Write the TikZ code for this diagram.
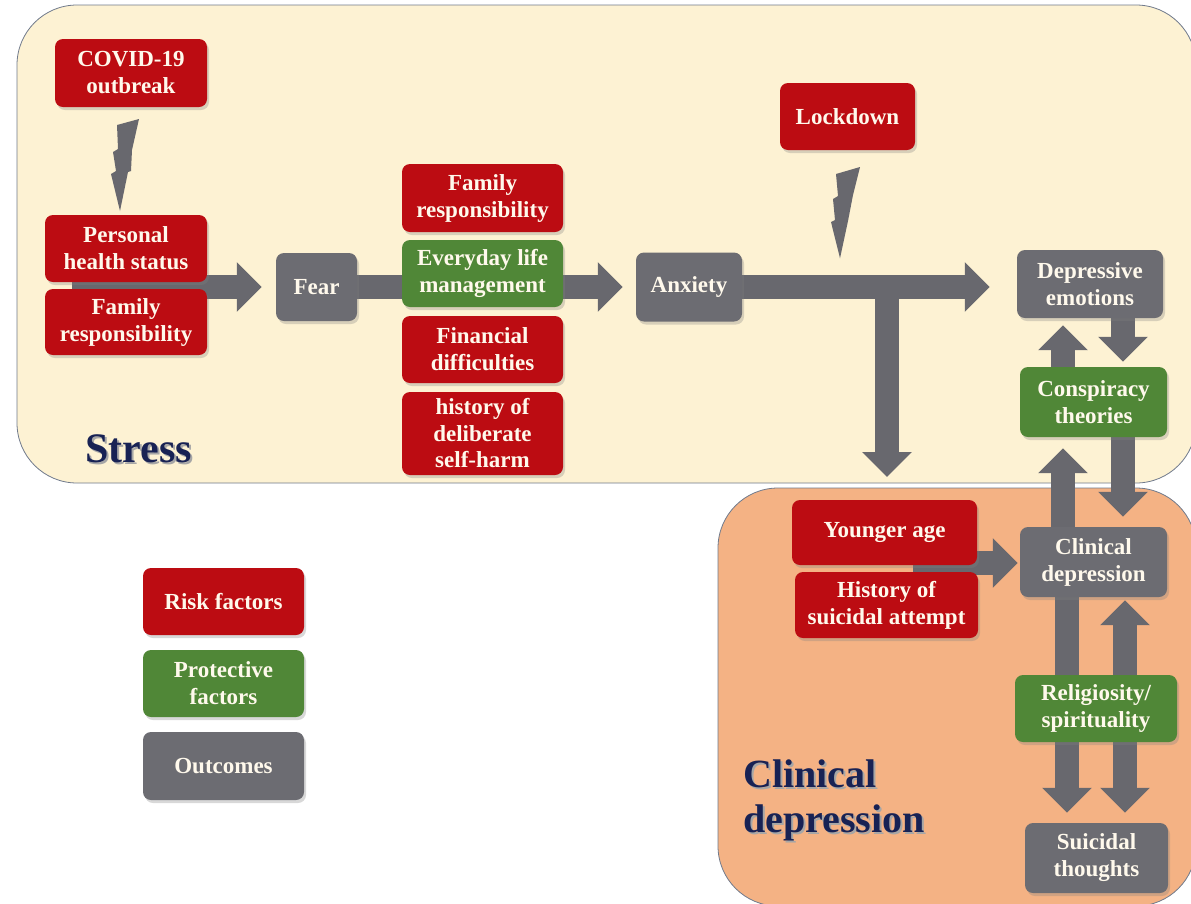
\documentclass[tikz,border=0pt]{standalone}
\usepackage{fontspec}
\setmainfont{Liberation Serif}
\usetikzlibrary{arrows.meta,shadows,calc}
\definecolor{cred}{RGB}{188,12,18}
\definecolor{cgreen}{RGB}{80,135,55}
\definecolor{cgray}{RGB}{108,108,114}
\definecolor{arrgray}{RGB}{104,104,110}
\definecolor{stressfill}{RGB}{253,242,211}
\definecolor{clinfill}{RGB}{244,178,132}
\definecolor{bordcol}{RGB}{112,122,140}
\definecolor{navy}{RGB}{24,34,84}
\definecolor{boxtext}{RGB}{255,249,236}
\pgfdeclarelayer{back}
\pgfdeclarelayer{mid}
\pgfsetlayers{back,mid,main}
\tikzset{
  basebox/.style={rounded corners=8pt, inner sep=2pt, align=center, text=boxtext,
    font=\bfseries\fontsize{23}{27}\selectfont,
    drop shadow={opacity=0.3, shadow xshift=2pt, shadow yshift=-3pt}},
  riskbox/.style={basebox, fill=cred},
  protbox/.style={basebox, fill=cgreen},
  outbox/.style={basebox, fill=cgray},
  bigarrow/.style={draw=arrgray, line width=24pt, -{Triangle[length=25pt,width=48pt]}},
  bigdouble/.style={draw=arrgray, line width=24pt, {Triangle[length=25pt,width=48pt]}-{Triangle[length=25pt,width=48pt]}},
  bolt/.style={fill=arrgray},
  region/.style={draw=bordcol, line width=0.8pt},
  regionlabel/.style={text=navy, font=\bfseries\fontsize{40}{45}\selectfont, align=left, inner sep=0pt}
}
\begin{document}
\begin{tikzpicture}[x=1pt,y=-1pt]
\useasboundingbox (0,0) rectangle (1191,903);

% boxes
\node[riskbox, minimum width=152pt, minimum height=68pt] (covid) at (131,73) {COVID-19\\outbreak};
\node[riskbox, minimum width=162pt, minimum height=67pt] (phs) at (126,248.5) {Personal\\health status};
\node[riskbox, minimum width=162pt, minimum height=66pt] (faml) at (126,322) {Family\\responsibility};
\node[outbox, minimum width=81pt, minimum height=68pt] (fear) at (316.5,287) {Fear};
\node[riskbox, minimum width=161pt, minimum height=68pt] (famm) at (482.5,198) {Family\\responsibility};
\node[protbox, minimum width=161pt, minimum height=67pt] (everyday) at (482.5,273.5) {Everyday life\\management};
\node[riskbox, minimum width=161pt, minimum height=67pt] (financial) at (482.5,349.5) {Financial\\difficulties};
\node[riskbox, minimum width=161pt, minimum height=83pt, font=\bfseries\fontsize{23}{26.5}\selectfont] (dsh) at (482.5,433.5) {history of\\deliberate\\self-harm};
\node[outbox, minimum width=106pt, minimum height=69pt] (anxiety) at (689,287) {Anxiety};
\node[riskbox, minimum width=135pt, minimum height=67pt] (lockdown) at (847.5,116.5) {Lockdown};
\node[outbox, minimum width=146pt, minimum height=68pt] (depemo) at (1090,284) {Depressive\\emotions};
\node[protbox, minimum width=147pt, minimum height=70pt] (consp) at (1093.5,402) {Conspiracy\\theories};
\node[outbox, minimum width=147pt, minimum height=70pt] (clindep) at (1093.5,562) {Clinical\\depression};
\node[riskbox, minimum width=185pt, minimum height=65pt] (younger) at (884.5,532.5) {Younger age};
\node[riskbox, minimum width=183pt, minimum height=66pt] (histsui) at (886.5,605) {History of\\suicidal attempt};
\node[protbox, minimum width=162pt, minimum height=67pt] (relig) at (1096,708.5) {Religiosity/\\spirituality};
\node[outbox, minimum width=143pt, minimum height=70pt] (suic) at (1096.5,858) {Suicidal\\thoughts};

% legend
\node[riskbox, minimum width=161pt, minimum height=67pt] (legrisk) at (223.5,601.5) {Risk factors};
\node[protbox, minimum width=161pt, minimum height=67pt] (legprot) at (223.5,683.5) {Protective\\factors};
\node[outbox, minimum width=161pt, minimum height=68pt] (legout) at (223.5,766) {Outcomes};

% helper coordinates
\coordinate (lsrc) at (72,287);
\coordinate (ysrc) at (913,563);
\coordinate (brtop) at (887,287);
\coordinate (brdown) at (887,477);
\coordinate (colA) at (1063,0);
\coordinate (colB) at (1123,0);
\coordinate (colC) at (1067,0);
\coordinate (colD) at (1125,0);

\begin{pgfonlayer}{back}
\fill[white] (0,0) rectangle (1191,903);
\draw[region, fill=stressfill, rounded corners=60pt] (17,5) rectangle (1196,483);
\draw[region, fill=clinfill, rounded corners=60pt] (718,488) rectangle (1196,906);
\node[regionlabel, text=black!35, anchor=base west, font=\bfseries\fontsize{42}{46}\selectfont] at (87,464) {Stress};
\node[regionlabel, anchor=base west, font=\bfseries\fontsize{42}{46}\selectfont] (stresslbl) at (85,462) {Stress};
\node[regionlabel, text=black!35, anchor=west] at (745,802) {Clinical\\depression};
\node[regionlabel, anchor=west] (clinlbl) at (743,800) {Clinical\\depression};
\end{pgfonlayer}

\begin{pgfonlayer}{mid}
\draw[bigarrow, shorten >=14pt] (lsrc) -- (lsrc -| fear.west);
\draw[bigarrow, shorten >=13pt] (fear.east) -- (anxiety.west);
\draw[bigarrow, shorten >=27pt] (anxiety.east) -- (anxiety.east -| depemo.west);
\draw[draw=arrgray, line width=24pt] (brtop) -- (brtop |- anxiety.east);
\draw[bigarrow] (brtop) -- (brdown);
\draw[bigarrow, shorten >=7pt] (consp.north -| colA) -- (depemo.south -| colA);
\draw[bigarrow, shorten >=5pt] (depemo.south -| colB) -- (consp.north -| colB);
\draw[bigarrow, shorten >=11pt] (clindep.north -| colA) -- (consp.south -| colA);
\draw[bigarrow, shorten >=10pt] (consp.south -| colB) -- (clindep.north -| colB);
\draw[bigarrow, shorten >=2pt] (ysrc) -- (ysrc -| clindep.west);
\draw[bigarrow, shorten >=10pt] (clindep.south -| colC) -- (suic.north -| colC);
\draw[bigdouble, shorten >=10pt, shorten <=3pt] (clindep.south -| colD) -- (suic.north -| colD);
\fill[bolt] (117,125) -- (139,119) -- (132,150) -- (131,171) -- (128,172) -- (120,211)
  -- (111,174) -- (116,171) -- (113,152) -- (118,149) -- cycle;
\fill[bolt] (836,174) -- (860,167) -- (853,195) -- (848,221) -- (840,258.3)
  -- (831,222) -- (835,220) -- (833,199) -- (838,196) -- cycle;
\end{pgfonlayer}
\end{tikzpicture}
\end{document}
